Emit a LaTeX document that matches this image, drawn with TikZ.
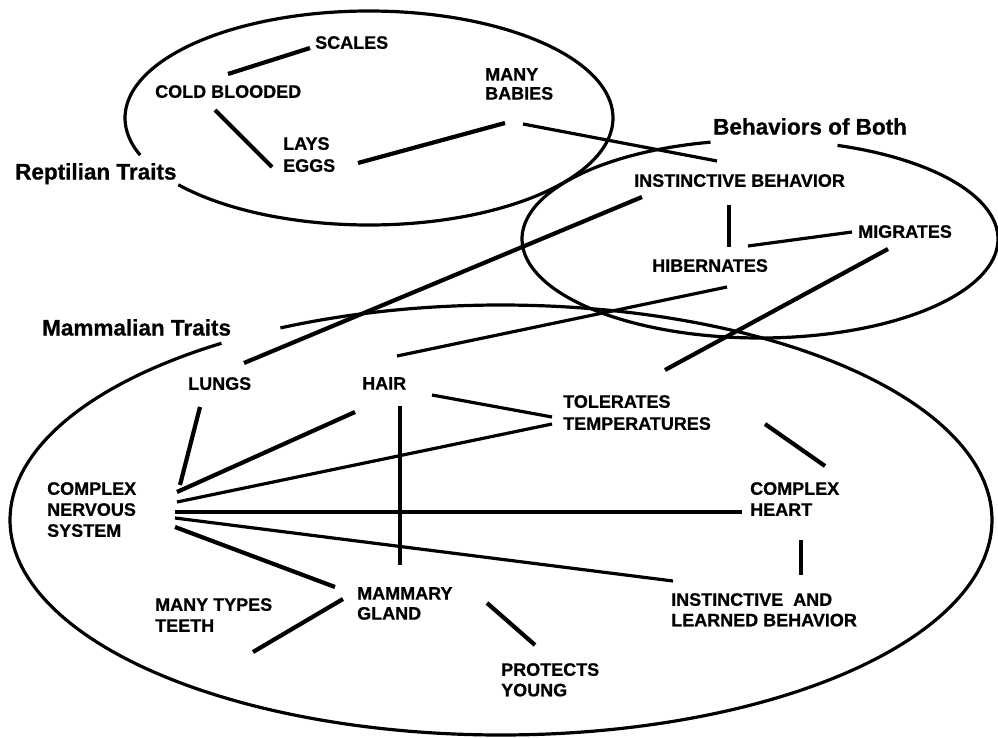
\documentclass[tikz,border=0pt]{standalone}
\usepackage{fontspec}
\setmainfont{Liberation Sans}[BoldFont={Liberation Sans Bold}, BoldFeatures={FakeBold=0.8}]
\usetikzlibrary{calc}
\begin{document}
\begin{tikzpicture}[x=1pt,y=-1pt,
  trait/.style={font=\fontsize{18}{#1}\selectfont\bfseries, inner sep=0pt, anchor=north west, align=left},
  trait/.default=21,
  group/.style={font=\fontsize{22.5}{26}\selectfont\bfseries, inner sep=0pt, anchor=north west},
  link/.style={line width=4.2pt},
  thinlink/.style={line width=3.2pt},
  ring/.style={line width=3.2pt}
]
\fill[white] (0,0) rectangle (998,738);
\useasboundingbox (0,0) rectangle (998,738);

% group outlines, each broken where its title sits
\draw[ring] plot[smooth, domain=159.7:501.4, samples=160] ({369+244*cos(\x)},{118+107*sin(\x)});
\draw[ring] plot[smooth, domain=289:618, samples=160] ({760+238*cos(\x)},{239+99*sin(\x)});
\draw[ring] plot[smooth, domain=243.3:595.3, samples=200] ({501+491*cos(\x)},{520+215*sin(\x)});

% group titles
\node[group] (rept) at (15,163) {Reptilian Traits};
\node[group] (both) at (713,118) {Behaviors of Both};
\node[group] (mamm) at (42,319) {Mammalian Traits};

% traits
\node[trait] (scales) at (315,36) {SCALES};
\node[trait] (cold) at (155,85) {COLD BLOODED};
\node[trait=19] (babies) at (485,68) {MANY\\BABIES};
\node[trait=22] (eggs) at (283,137) {LAYS\\EGGS};
\node[trait] (instb) at (634,174) {INSTINCTIVE BEHAVIOR};
\node[trait] (migr) at (858,225) {MIGRATES};
\node[trait] (hib) at (652,259) {HIBERNATES};
\node[trait] (lungs) at (188,377) {LUNGS};
\node[trait] (hair) at (362,377) {HAIR};
\node[trait=22] (tol) at (563,395) {TOLERATES\\TEMPERATURES};
\node[trait] (cns) at (47,482) {COMPLEX\\NERVOUS\\SYSTEM};
\node[trait] (heart) at (750,482) {COMPLEX\\HEART};
\node[trait=20.5] (ilb) at (671,593) {INSTINCTIVE\ \ AND\\LEARNED BEHAVIOR};
\node[trait=20] (gland) at (357,587) {MAMMARY\\GLAND};
\node[trait] (teeth) at (155,598) {MANY TYPES\\TEETH};
\node[trait=20.5] (young) at (501,663) {PROTECTS\\YOUNG};

% links
\draw[link] ($(cold.north west)+(73,-11)$) -- ($(scales.north west)+(-5,12)$);
\draw[link] ($(cold.north west)+(60,25)$) -- ($(eggs.north west)+(-11,30)$);
\draw[link] ($(eggs.north west)+(75,26)$) -- ($(babies.north west)+(20,55)$);
\draw[thinlink] ($(babies.north west)+(38,56)$) -- ($(instb.north west)+(83,-13)$);
\draw[link] ($(instb.north west)+(8,23)$) -- ($(lungs.north west)+(56,-14)$);
\draw[link] ($(instb.north west)+(95,31)$) -- ($(hib.north west)+(77,-12)$);
\draw[thinlink] ($(hib.north west)+(96,-13)$) -- ($(migr.north west)+(-6,7)$);
\draw[thinlink] ($(hib.north west)+(75,28)$) -- ($(hair.north west)+(35,-21)$);
\draw[link] ($(migr.north west)+(30,24)$) -- ($(tol.north west)+(102,-25)$);
\draw[thinlink] ($(hair.north west)+(70,18)$) -- ($(tol.north west)+(-11,22)$);
\draw[link] ($(hair.north west)+(-7,35)$) -- ($(cns.north west)+(130,10)$);
\draw[link] ($(lungs.north west)+(12,30)$) -- ($(cns.north west)+(133,3)$);
\draw[thinlink] ($(tol.north west)+(-11,29)$) -- ($(cns.north west)+(130,20)$);
\draw[thinlink] ($(cns.north west)+(128,30)$) -- ($(heart.north west)+(-8,30)$);
\draw[thinlink] ($(cns.north west)+(128,36)$) -- ($(ilb.north west)+(2,-12)$);
\draw[link] ($(cns.north west)+(128,45)$) -- ($(gland.north west)+(-22,0)$);
\draw[link] ($(hair.north west)+(38,29)$) -- ($(gland.north west)+(43,-22)$);
\draw[link] ($(gland.north west)+(-14,12)$) -- ($(teeth.north west)+(98,54)$);
\draw[link] ($(gland.north west)+(130,16)$) -- ($(young.north west)+(34,-18)$);
\draw[link] ($(tol.north west)+(202,29)$) -- ($(heart.north west)+(75,-16)$);
\draw[link] ($(heart.north west)+(51,58)$) -- ($(ilb.north west)+(130,-18)$);
\end{tikzpicture}
\end{document}
